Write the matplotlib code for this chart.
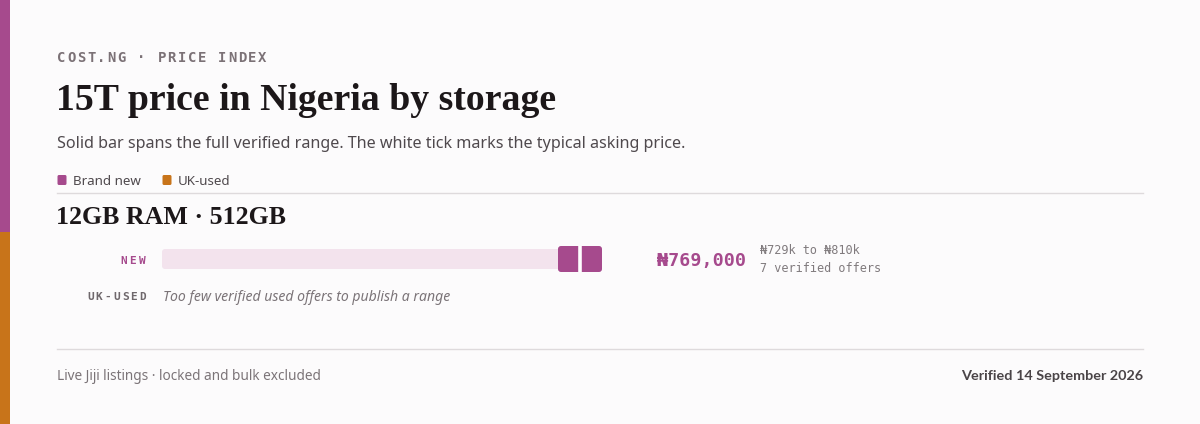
import matplotlib
matplotlib.use('Agg')
import matplotlib.pyplot as plt
from matplotlib.patches import Rectangle, FancyBboxPatch

# data
config = ["12GB RAM · 512GB"]
new_low = [729000]
new_high = [810000]
new_typical = [769000]
new_offers = [7]
used_note = "Too few verified used offers to publish a range"

PURPLE = "#a64a8d"
ORANGE = "#c8741a"
TRACK = "#f3e3ed"
BG = "#fcfbfc"
MONO = ["DejaVu Sans Mono"]
SANS = ["Noto Sans", "DejaVu Sans"]
SERIF = ["Liberation Serif", "DejaVu Serif"]

fig = plt.figure(figsize=(12, 4.24), dpi=100, facecolor=BG)
bg = fig.add_axes([0, 0, 1, 1])
bg.set_xlim(0, 1200)
bg.set_ylim(424, 0)
bg.axis('off')


def spaced(x, y, s, pitch, ha='left', **kw):
    # monospace text with extra letter spacing
    if ha == 'right':
        x = x - pitch * len(s)
    for i, ch in enumerate(s):
        bg.text(x + i * pitch, y, ch, va='center', ha='left', **kw)


# left stripe
bg.add_patch(Rectangle((0, 0), 10, 232, color=PURPLE, lw=0))
bg.add_patch(Rectangle((0, 232), 10, 192, color=ORANGE, lw=0))

spaced(57, 58, "COST.NG · PRICE INDEX", 10.05, family=MONO, fontsize=10,
       color="#7b7176", fontweight='semibold')
bg.text(56, 101, "15T price in Nigeria by storage", family=SERIF, fontsize=27.2,
        fontweight='bold', color="#1c1719", va='center')
bg.text(57, 143.5, "Solid bar spans the full verified range. The white tick marks the typical asking price.",
        family=SANS, fontsize=11.6, color="#4f494d", va='center')

# legend
bg.add_patch(FancyBboxPatch((57.5, 175), 9, 10, boxstyle="round,pad=0,rounding_size=1.5",
                            color=PURPLE, lw=0))
bg.text(73, 181.5, "Brand new", family=SANS, fontsize=9.6, color="#4f494d", va='center')
bg.add_patch(FancyBboxPatch((162.5, 175), 9, 10, boxstyle="round,pad=0,rounding_size=1.5",
                            color=ORANGE, lw=0))
bg.text(178, 181.5, "UK-used", family=SANS, fontsize=9.6, color="#4f494d", va='center')
bg.plot([57, 1143], [193, 193], color="#dedadc", lw=1)

# section
bg.text(56, 218, config[0], family=SERIF, fontsize=18.6, fontweight='bold',
        color="#1c1719", va='center')
spaced(148, 260.5, "NEW", 9.2, ha='right', family=MONO, fontsize=8,
       fontweight='bold', color=PURPLE)
spaced(148, 296.5, "UK-USED", 8.7, ha='right', family=MONO, fontsize=8,
       fontweight='bold', color="#6f686c")
bg.text(163, 297.5, used_note, family=SANS, fontsize=10.1, style='italic',
        color="#7b7478", va='center')

# range bar on its own price scale
bx = fig.add_axes([162 / 1200, 1 - 280 / 424, 440 / 1200, 40 / 424])
bx.set_xlim(0, max(new_high))
bx.set_ylim(0, 1)
bx.axis('off')
upx = max(new_high) / 440
vpx = 1 / 40
asp = vpx / upx
bx.add_patch(FancyBboxPatch((0, 0.275), max(new_high), 0.5,
                            boxstyle=f"round,pad=0,rounding_size={3 * upx}",
                            mutation_aspect=asp, color=TRACK, lw=0, clip_on=False))
bx.add_patch(FancyBboxPatch((new_low[0], 0.2), new_high[0] - new_low[0], 0.65,
                            boxstyle=f"round,pad=0,rounding_size={3 * upx}",
                            mutation_aspect=asp, color=PURPLE, lw=0, clip_on=False))
bx.plot([new_typical[0], new_typical[0]], [0.2, 0.85], color="white", lw=2.6,
        solid_capstyle='butt', clip_on=False)

bg.text(657, 261.5, f"₦{new_typical[0]:,}", family=MONO, fontsize=13.2,
        fontweight='bold', color=PURPLE, va='center')
bg.text(760, 251, f"₦{new_low[0] // 1000}k to ₦{new_high[0] // 1000}k", family=MONO,
        fontsize=8.6, color="#807a7d", va='center')
bg.text(760, 268, f"{new_offers[0]} verified offers", family=MONO,
        fontsize=8.5, color="#807a7d", va='center')

# footer
bg.plot([57, 1143], [349, 349], color="#dedadc", lw=1)
bg.text(57, 376.5, "Live Jiji listings · locked and bulk excluded", family=SANS,
        fontsize=9.8, color="#7b7478", va='center')
bg.text(1143, 376, "Verified 14 September 2026", family=["Lato", "DejaVu Sans"],
        fontsize=10.4, fontweight='bold', color="#4a4447", va='center', ha='right')

fig.savefig("out.png", dpi=100, facecolor=BG)
